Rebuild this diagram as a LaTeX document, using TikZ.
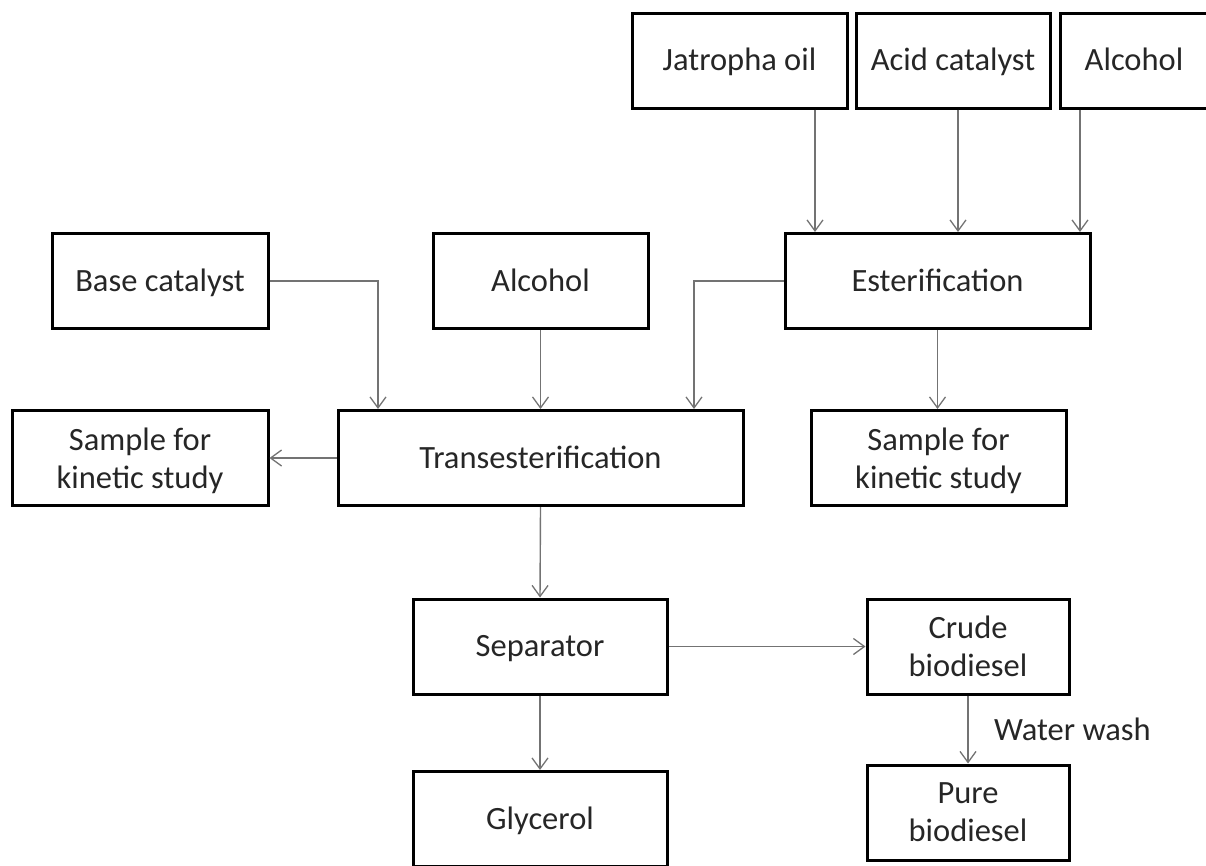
\documentclass[tikz,border=0pt]{standalone}
\usepackage{fontspec}
\setmainfont{Carlito}
\usepackage{tikz}
\usetikzlibrary{positioning,arrows.meta}

\begin{document}
\begin{tikzpicture}[x=1pt, y=-1pt,
   procbox/.style={draw, rectangle, line width=3pt, inner sep=0pt, align=center, text=black!85, font=\fontsize{32.5}{38}\selectfont, minimum height=95pt, text depth=0pt},
   onebox/.style={procbox, text height=20.5pt},
   flow/.style={-{Straight Barb[length=11pt, width=16pt, line width=1.3pt]}, line width=1.4pt, draw=black!55}
]
\useasboundingbox (0,0) rectangle (1206,865);
% Nodes
\node [onebox, minimum width=215pt] (jatropha) at (739.5,60.5) {Jatropha oil};
\node [onebox, minimum width=194pt] (acid) at (953,60.5) {Acid catalyst};
\node [onebox, minimum width=148pt] (alcoholtop) at (1134,60.5) {Alcohol};
\node [onebox, minimum width=305pt] (ester) at (937.5,281) {Esterification};
\node [onebox, minimum width=216pt] (base) at (160,281) {Base catalyst};
\node [onebox, minimum width=215pt] (alcoholmid) at (540.5,281) {Alcohol};
\node [procbox, minimum width=256pt] (sampleleft) at (140,458) {Sample for\\kinetic study};
\node [onebox, minimum width=405pt] (trans) at (540.5,458) {Transesterification};
\node [procbox, minimum width=255pt] (sampleright) at (938.5,458) {Sample for\\kinetic study};
\node [onebox, minimum width=254pt] (sep) at (540,646.5) {Separator};
\node [procbox, minimum width=202pt] (crude) at (968,646.5) {Crude\\biodiesel};
\node [onebox, minimum width=254pt] (glycerol) at (540,819) {Glycerol};
\node [procbox, minimum width=202pt] (pure) at (968,812.5) {Pure\\biodiesel};

% Connections
\draw [flow] ([xshift=75.5pt]jatropha.south) -- ([xshift=75.5pt]jatropha.south |- ester.north);
\draw [flow] ([xshift=5pt]acid.south) -- ([xshift=5pt]acid.south |- ester.north);
\draw [flow] ([xshift=-54pt]alcoholtop.south) -- ([xshift=-54pt]alcoholtop.south |- ester.north);
\draw [flow] (base.east) -| ([xshift=-162.5pt]trans.north);
\draw [flow] (alcoholmid.south) -- (alcoholmid.south |- trans.north);
\draw [flow] (ester.west) -| ([xshift=153.5pt]trans.north);
\draw [flow] (ester.south) -- (ester.south |- sampleright.north);
\draw [flow] (trans.west) -- (sampleleft.east);
\draw [flow] (trans.south) -- (sep.north);
\draw [flow] (sep.east) -- (crude.west);
\draw [flow] (sep.south) -- (glycerol.north);
\draw [flow] (crude.south) -- node [right=22pt, text=black!85, font=\fontsize{32.5}{38}\selectfont] (wash) {Water wash} (pure.north);

\end{tikzpicture}
\end{document}
